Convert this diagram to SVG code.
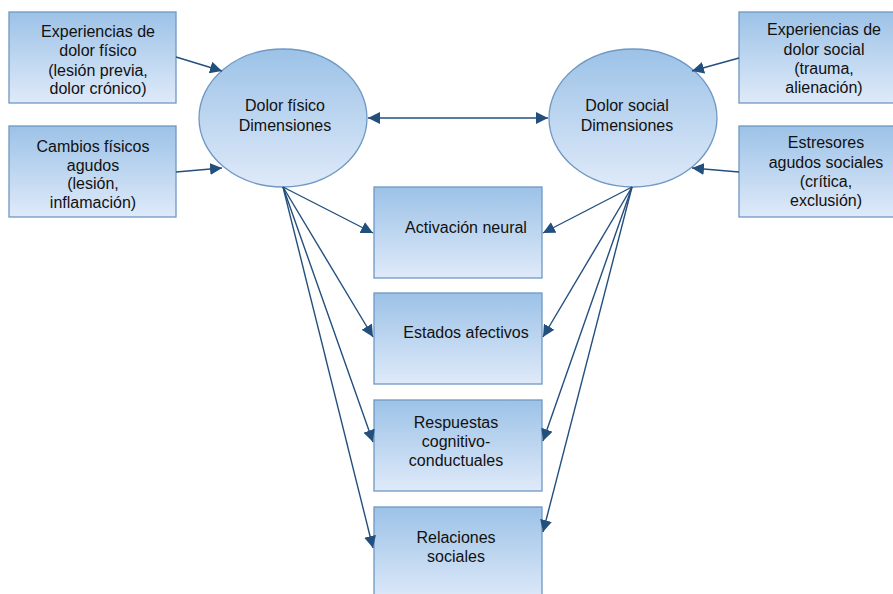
<svg xmlns="http://www.w3.org/2000/svg" width="893" height="594" viewBox="0 0 893 594">
<defs>
<linearGradient id="g" x1="0" y1="0" x2="0" y2="1">
<stop offset="0" stop-color="#9cc2e7"/>
<stop offset="1" stop-color="#dfeaf9"/>
</linearGradient>
<marker id="ah" viewBox="0 0 10 10" refX="10" refY="5" markerWidth="12" markerHeight="12" markerUnits="userSpaceOnUse" orient="auto-start-reverse">
<path d="M0,0 L10,5 L0,10 z" fill="#234f7d"/>
</marker>
</defs>
<style>
.n{fill:url(#g);stroke:#6f98c4;stroke-width:1.3}
.t{font-family:"Liberation Sans",Arial,sans-serif;font-size:16px;fill:#111;text-anchor:middle}
.c line{stroke:#234f7d;stroke-width:1.4;marker-end:url(#ah)}
</style>
<rect width="893" height="594" fill="#fff"/>
<g id="exp-fisico"><rect class="n" x="9" y="12" width="167" height="91"/>
<text class="t"><tspan x="98" y="37">Experiencias de</tspan><tspan x="98" y="56">dolor físico</tspan><tspan x="98" y="76">(lesión previa,</tspan><tspan x="98" y="94">dolor crónico)</tspan></text></g>
<g id="cambios"><rect class="n" x="9" y="126" width="167" height="91"/>
<text class="t"><tspan x="93" y="152">Cambios físicos</tspan><tspan x="93" y="171">agudos</tspan><tspan x="93" y="189">(lesión,</tspan><tspan x="93" y="208">inflamación)</tspan></text></g>
<g id="exp-social"><rect class="n" x="739" y="12" width="160" height="91"/>
<text class="t"><tspan x="824" y="35">Experiencias de</tspan><tspan x="824" y="55">dolor social</tspan><tspan x="824" y="74">(trauma,</tspan><tspan x="824" y="93">alienación)</tspan></text></g>
<g id="estresores"><rect class="n" x="739" y="126" width="160" height="91"/>
<text class="t"><tspan x="826" y="148">Estresores</tspan><tspan x="826" y="168">agudos sociales</tspan><tspan x="826" y="187">(crítica,</tspan><tspan x="826" y="206">exclusión)</tspan></text></g>
<g id="dolor-fisico"><ellipse class="n" cx="283" cy="118" rx="84" ry="69"/>
<text class="t"><tspan x="285" y="111">Dolor físico</tspan><tspan x="285" y="131">Dimensiones</tspan></text></g>
<g id="dolor-social"><ellipse class="n" cx="633" cy="118" rx="84" ry="69"/>
<text class="t"><tspan x="627" y="111">Dolor social</tspan><tspan x="627" y="131">Dimensiones</tspan></text></g>
<g id="activacion"><rect class="n" x="374" y="187" width="168" height="91"/>
<text class="t" x="466" y="233">Activación neural</text></g>
<g id="estados"><rect class="n" x="374" y="293" width="168" height="91"/>
<text class="t" x="466" y="338">Estados afectivos</text></g>
<g id="respuestas"><rect class="n" x="374" y="400" width="168" height="91"/>
<text class="t"><tspan x="456" y="428">Respuestas</tspan><tspan x="456" y="447">cognitivo-</tspan><tspan x="456" y="466">conductuales</tspan></text></g>
<g id="relaciones"><rect class="n" x="374" y="507" width="168" height="95"/>
<text class="t"><tspan x="456" y="543">Relaciones</tspan><tspan x="456" y="562">sociales</tspan></text></g>
<g class="c" id="connectors">
<line x1="176" y1="57" x2="222" y2="71"/>
<line x1="176" y1="172" x2="222" y2="168"/>
<line x1="739" y1="58" x2="692" y2="71"/>
<line x1="739" y1="172" x2="692" y2="168"/>
<line x1="368" y1="118" x2="548" y2="118" marker-start="url(#ah)"/>
<line x1="283" y1="187" x2="373" y2="233"/>
<line x1="283" y1="187" x2="373" y2="337"/>
<line x1="283" y1="187" x2="373" y2="442"/>
<line x1="283" y1="187" x2="373" y2="548"/>
<line x1="632" y1="187" x2="543" y2="233"/>
<line x1="632" y1="187" x2="543" y2="337"/>
<line x1="632" y1="187" x2="543" y2="441"/>
<line x1="632" y1="187" x2="543" y2="532"/>
</g>
</svg>
